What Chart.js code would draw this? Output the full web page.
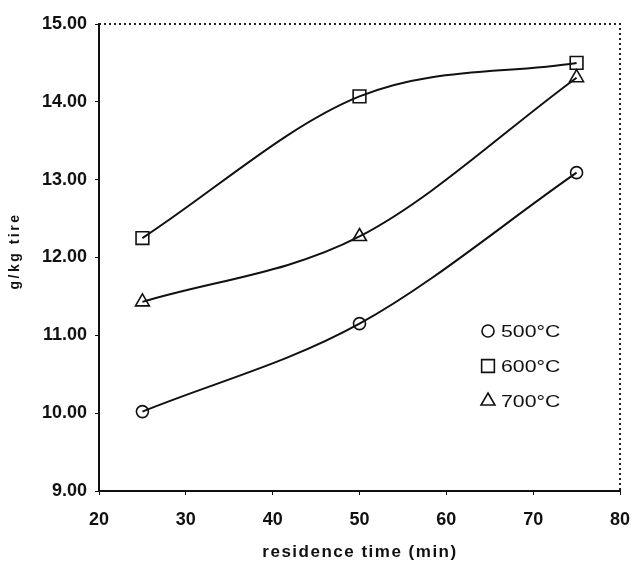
<!DOCTYPE html>
<html>
<head>
<meta charset="utf-8">
<script src="https://cdn.jsdelivr.net/npm/chart.js@4"></script>
<style>
  html, body { margin: 0; padding: 0; background: #fff; }
  #wrap { width: 631px; height: 565px; }
</style>
</head>
<body>
<div id="wrap"><canvas id="chart" width="631" height="565"></canvas></div>
<script>
const seriesLabels = ['500°C', '600°C', '700°C'];
const pointStyles = ['circle', 'rect', 'triangle'];
const pointSizes = [6, 9, 8];
const times = [25, 50, 75];
const values500 = [10.02, 11.15, 13.09];
const values600 = [12.25, 14.07, 14.50];
const values700 = [11.43, 12.27, 14.31];
const xTicks = [20, 30, 40, 50, 60, 70, 80];
const yTicks = [9, 10, 11, 12, 13, 14, 15];
const xTitle = 'residence time (min)';
const yTitle = 'g/kg tire';

const allValues = [values500, values600, values700];
const FONT = '"Liberation Sans", Arial, sans-serif';

const datasets = allValues.map((vals, i) => ({
    label: seriesLabels[i],
    data: times.map((t, j) => ({ x: t, y: vals[j] })),
    borderColor: '#111',
    borderWidth: 2,
    backgroundColor: '#fff',
    pointStyle: pointStyles[i],
    pointRadius: pointSizes[i],
    pointBorderWidth: 1.6,
    pointBorderColor: '#111',
    pointBackgroundColor: 'rgba(255,255,255,0)',
    cubicInterpolationMode: 'monotone',
    fill: false
}));

// dotted top/right frame, letter-spaced axis titles, in-plot legend
const framePlugin = {
    id: 'frame',
    afterDraw(chart) {
        const { ctx, chartArea: a } = chart;
        ctx.save();
        ctx.strokeStyle = '#222';
        ctx.lineWidth = 2;
        ctx.setLineDash([2, 3]);
        ctx.beginPath();
        ctx.moveTo(a.left, a.top);
        ctx.lineTo(a.right, a.top);
        ctx.lineTo(a.right, a.bottom);
        ctx.stroke();
        ctx.setLineDash([]);

        ctx.fillStyle = '#111';
        ctx.textAlign = 'center';
        ctx.textBaseline = 'middle';
        ctx.letterSpacing = '1.5px';
        ctx.font = 'bold 17px ' + FONT;
        ctx.fillText(xTitle, 360, 552);

        ctx.save();
        ctx.translate(15, 251);
        ctx.rotate(-Math.PI / 2);
        ctx.letterSpacing = '2.5px';
        ctx.font = 'bold 14px ' + FONT;
        ctx.fillText(yTitle, 0, 0);
        ctx.restore();

        ctx.letterSpacing = '0px';
        ctx.textAlign = 'left';
        const lx = 488, ly = 331, gap = 35;
        chart.data.datasets.forEach((ds, i) => {
            const y = ly + i * gap;
            ctx.lineWidth = 1.6;
            ctx.strokeStyle = '#111';
            ctx.fillStyle = '#fff';
            Chart.helpers.drawPoint(ctx, {
                pointStyle: ds.pointStyle,
                radius: ds.pointRadius,
                borderWidth: 1.6
            }, lx, y);
            ctx.save();
            ctx.fillStyle = '#111';
            ctx.font = '17px ' + FONT;
            ctx.translate(lx + 13, y + 1);
            ctx.scale(1.25, 1);
            ctx.fillText(ds.label, 0, 0);
            ctx.restore();
        });
        ctx.restore();
    }
};

new Chart(document.getElementById('chart'), {
    type: 'line',
    data: { datasets: datasets },
    plugins: [framePlugin],
    options: {
        responsive: false,
        animation: false,
        layout: { padding: { top: 24, right: 11, left: 0, bottom: 0 } },
        plugins: {
            legend: { display: false },
            tooltip: { enabled: false }
        },
        scales: {
            x: {
                type: 'linear',
                min: 20,
                max: 80,
                afterBuildTicks: s => { s.ticks = xTicks.map(v => ({ value: v })); },
                afterFit: s => { s.height = 74; s.paddingRight = 0; s.paddingLeft = 0; },
                border: { display: true, color: '#111', width: 2 },
                grid: { display: true, drawOnChartArea: false, tickLength: 4, color: '#111' },
                ticks: {
                    color: '#111',
                    padding: 14,
                    font: { family: FONT, size: 18, weight: 'bold' }
                },
                title: { display: false }
            },
            y: {
                min: 9,
                max: 15,
                afterBuildTicks: s => { s.ticks = yTicks.map(v => ({ value: v })); },
                afterFit: s => { s.width = 99; s.paddingTop = 0; s.paddingBottom = 0; },
                border: { display: true, color: '#111', width: 2 },
                grid: { display: true, drawOnChartArea: false, tickLength: 4, color: '#111' },
                ticks: {
                    color: '#111',
                    padding: 8,
                    callback: v => v.toFixed(2),
                    font: { family: FONT, size: 18, weight: 'bold' }
                },
                title: { display: false }
            }
        }
    }
});
</script>
</body>
</html>
